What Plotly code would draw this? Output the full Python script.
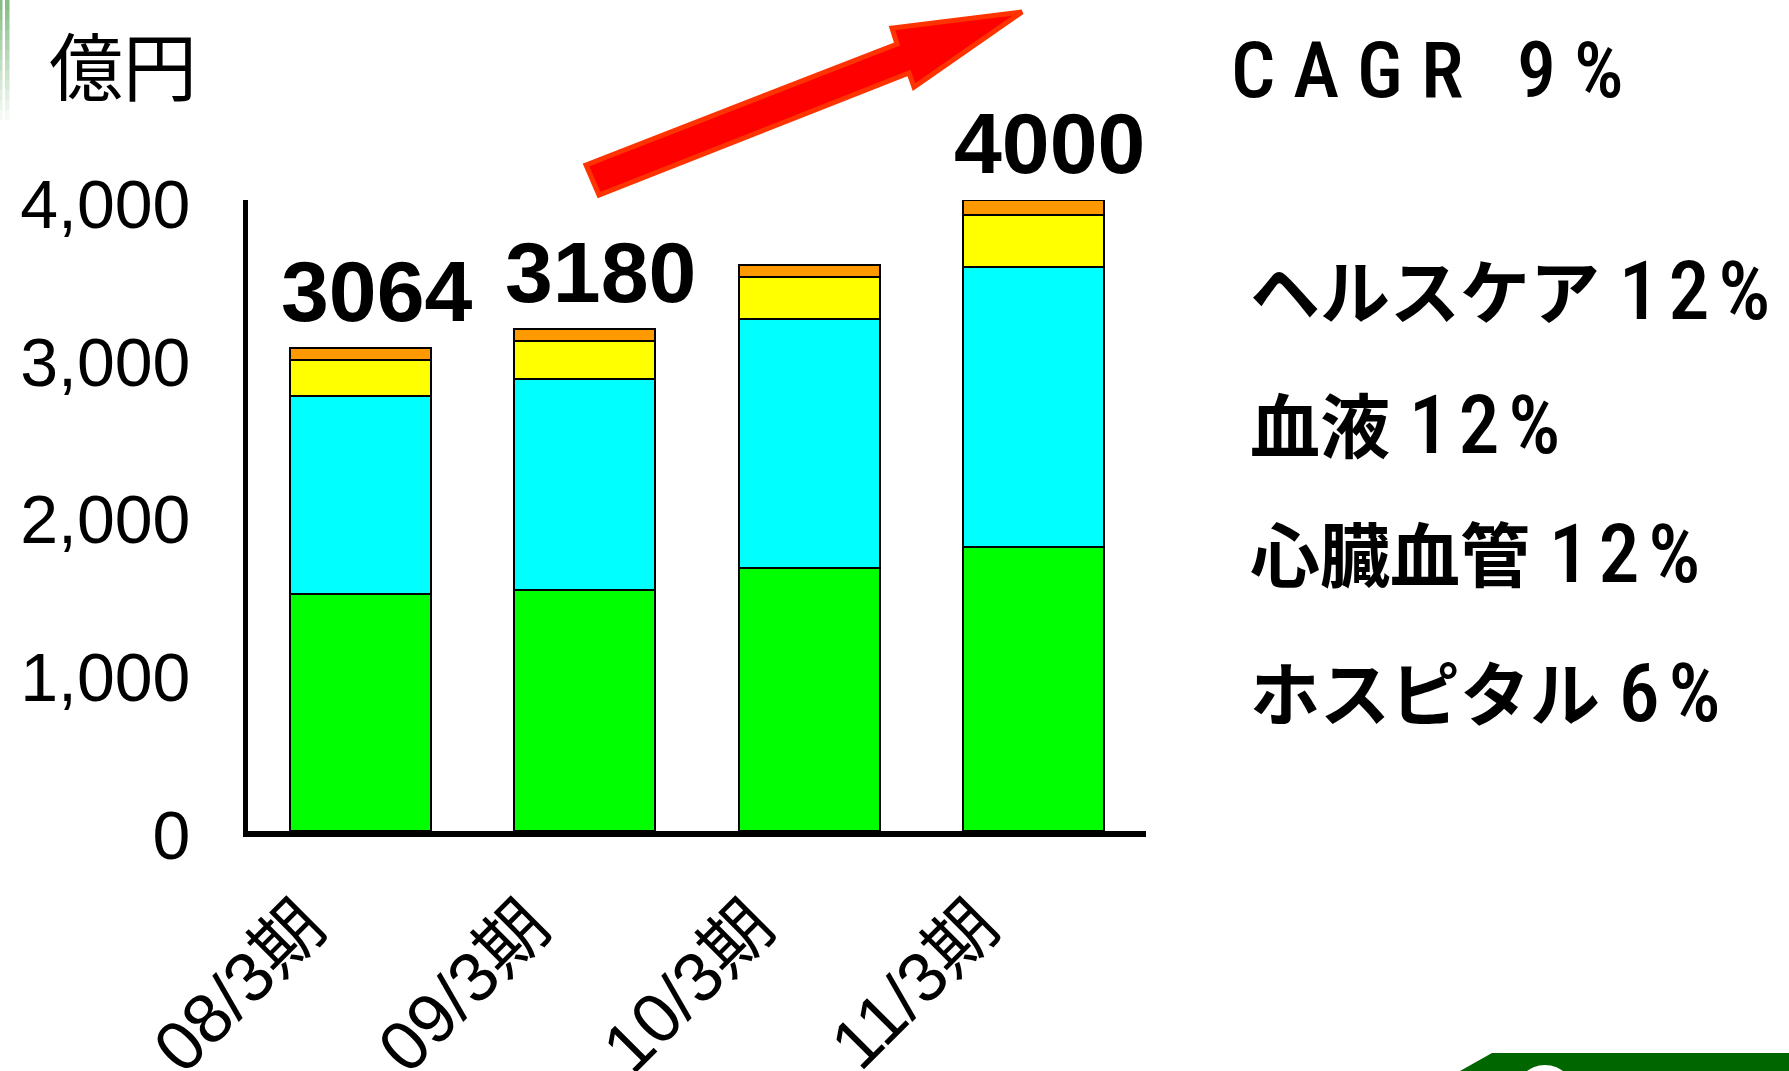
import plotly.graph_objects as go

# ---------------- data ----------------
categories = ["08/3期", "09/3期", "10/3期", "11/3期"]
hospital = [1500, 1527, 1665, 1798]      # ホスピタル (green)
cardio = [1260, 1338, 1579, 1775]        # 心臓血管 (cyan)
blood = [226, 243, 268, 332]             # 血液 (yellow)
healthcare = [78, 72, 78, 95]            # ヘルスケア (orange)
total_labels = ["3064", "3180", "", "4000"]
y_ticks = [0, 1000, 2000, 3000, 4000]
y_tick_text = ["0", "1,000", "2,000", "3,000", "4,000"]
growth_names = ["ヘルスケア", "血液", "心臓血管", "ホスピタル"]
growth_rates = ["1\u200a2\u200a%", "1\u200a2\u200a%", "1\u200a2\u200a%", "6\u200a%"]
cagr_text = "C A G R\u00a0\u00a0\u00a09 %"
unit_text = "億円"

# ---------------- layout geometry ----------------
W, H = 1789, 1071
L, R, T, B = 248, 643, 200, 240
PW, PH = W - L - R, H - T - B


def px(x):
    return (x - L) / PW


def py(y):
    return (H - B - y) / PH


NARROW = ("Liberation Sans Narrow, Roboto Condensed, Noto Sans Condensed, "
          "DejaVu Sans Condensed, Open Sans Condensed, Noto Sans, DejaVu Sans")
NARROW_STYLE = f"font-family:{NARROW};font-stretch:condensed;font-weight:500"
CJK = "Noto Sans CJK JP"

fig = go.Figure()
series = [
    ("ホスピタル", hospital, "#00FF00"),
    ("心臓血管", cardio, "#00FFFF"),
    ("血液", blood, "#FFFF00"),
    ("ヘルスケア", healthcare, "#FF9900"),
]
for name, vals, col in series:
    fig.add_trace(go.Bar(
        x=categories, y=vals, name=name,
        marker=dict(color=col, line=dict(color="black", width=2)),
        width=0.63, hoverinfo="skip",
    ))

totals = [sum(v) for v in zip(hospital, cardio, blood, healthcare)]
annotations = []
for cat, tot, lab in zip(categories, totals, total_labels):
    if lab:
        annotations.append(dict(
            x=cat, y=tot, xref="x", yref="y", text=lab, showarrow=False,
            xanchor="center", yanchor="bottom", xshift=16, yshift=7,
            font=dict(family="Liberation Sans, Arial, sans-serif", size=86,
                      color="black", weight="bold"),
        ))

# unit label
annotations.append(dict(
    x=px(123), y=py(62), xref="paper", yref="paper", text=unit_text,
    showarrow=False, xanchor="center", yanchor="middle",
    font=dict(family=CJK, size=74, color="black"),
))

# CAGR
annotations.append(dict(
    x=px(1229), y=py(70), xref="paper", yref="paper",
    text=f"<span style=\"{NARROW_STYLE}\">{cagr_text}</span>",
    showarrow=False, xanchor="left", yanchor="middle",
    font=dict(family=NARROW, size=78, color="black"),
))

# growth rates
growth_y = [288, 422, 551, 690]
for name, rate, gy in zip(growth_names, growth_rates, growth_y):
    annotations.append(dict(
        x=px(1248), y=py(gy), xref="paper", yref="paper",
        text=(f"<b>{name}</b><span style=\"{NARROW_STYLE};font-size:82px\">"
              f" {rate}</span>"),
        showarrow=False, xanchor="left", yanchor="middle",
        font=dict(family=CJK, size=70, color="black"),
    ))

shapes = []
# red arrow
pts = [(586, 165), (897, 44), (892, 28), (1022, 12), (914, 87), (909, 73), (599, 195)]
path = "M " + " L ".join(f"{px(x):.5f},{py(y):.5f}" for x, y in pts) + " Z"
shapes.append(dict(type="path", path=path, xref="paper", yref="paper",
                   fillcolor="#FF0000", line=dict(color="#FF3300", width=5),
                   layer="above"))

# decorative green lines top-left (fading)
n_seg = 12
for i in range(n_seg):
    y0 = i * 10
    y1 = y0 + 10
    op = max(0.0, 0.75 * (1 - i / n_seg))
    for x0, x1 in [(0, 2.5), (5, 9.5)]:
        shapes.append(dict(type="rect", xref="paper", yref="paper",
                           x0=px(x0), x1=px(x1), y0=py(y1), y1=py(y0),
                           fillcolor="#5DA85D", opacity=op, line=dict(width=0),
                           layer="below"))

# bottom-right green band
band = [(1460, 1071), (1492, 1053), (1789, 1053), (1789, 1071)]
bpath = "M " + " L ".join(f"{px(x):.5f},{py(y):.5f}" for x, y in band) + " Z"
shapes.append(dict(type="path", path=bpath, xref="paper", yref="paper",
                   fillcolor="#006600", line=dict(width=0), layer="above"))
shapes.append(dict(type="circle", xref="paper", yref="paper",
                   x0=px(1515), x1=px(1575), y0=py(1125), y1=py(1065),
                   fillcolor="white", line=dict(width=0), layer="above"))

fig.update_layout(
    width=W, height=H, autosize=False,
    margin=dict(l=L, r=R, t=T, b=B, pad=0),
    paper_bgcolor="white", plot_bgcolor="white",
    barmode="stack", bargap=0.37, showlegend=False,
    annotations=annotations, shapes=shapes,
    xaxis=dict(
        range=[-0.5, 3.5], showline=True, linecolor="black", linewidth=6,
        showgrid=False, zeroline=False, ticks="", tickangle=-45, automargin=False,
        tickfont=dict(family="Liberation Sans, " + CJK, size=70, color="black"),
        ticklabelstandoff=20, ticklabelshift=-56,
    ),
    yaxis=dict(
        range=[0, 4000], showline=True, linecolor="black", linewidth=5,
        showgrid=False, zeroline=False, ticks="", automargin=False,
        tickvals=y_ticks, ticktext=y_tick_text,
        tickfont=dict(family="Liberation Sans, Arial, sans-serif", size=68, color="black"),
        ticklabelstandoff=39, ticklabelshift=4,
    ),
)

fig.write_html(
    "out.html",
    config={"displayModeBar": False},
    post_script="document.body.style.margin='0';document.body.style.overflow='hidden';",
)
